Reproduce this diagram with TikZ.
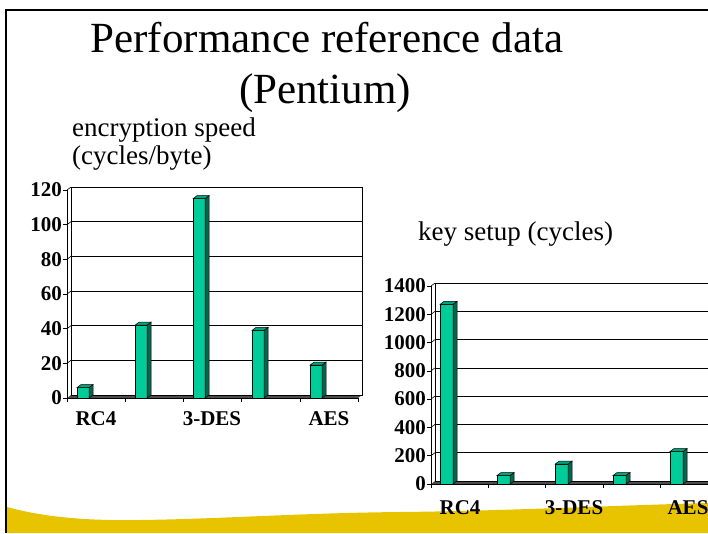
\documentclass[tikz,border=0pt]{standalone}
\usepackage{fontspec}
\setmainfont{Liberation Serif}
\usetikzlibrary{positioning}
\definecolor{Ink}{HTML}{000000}
\definecolor{BarFront}{HTML}{00CC99}
\definecolor{BarSide}{HTML}{00664D}
\definecolor{BarTop}{HTML}{00A37A}
\definecolor{Floor}{HTML}{4D4D4D}
\definecolor{Wave}{HTML}{E8C300}
% one 3-d column: left x, width, floor y, top y
\newcommand{\cbar}[4]{%
  \filldraw[fill=BarFront,draw=Ink,line width=0.5pt] (#1,#3) rectangle (#1+#2,#4);
  \filldraw[fill=BarSide,draw=Ink,line width=0.5pt] (#1+#2,#3) -- (#1+#2+4,#3-3) -- (#1+#2+4,#4-3) -- (#1+#2,#4) -- cycle;
  \filldraw[fill=BarTop,draw=Ink,line width=0.5pt] (#1,#4) -- (#1+4,#4-3) -- (#1+#2+4,#4-3) -- (#1+#2,#4) -- cycle;}

\begin{document}
\begin{tikzpicture}[x=1pt,y=-1pt,
  grid/.style={Ink,line width=0.6pt},
  ylab/.style={anchor=east,inner sep=0pt,font=\fontsize{21}{21}\selectfont\bfseries},
  xlab/.style={inner sep=0pt,font=\fontsize{21}{21}\selectfont\bfseries}]
\useasboundingbox (0,0) rectangle (708,533);
% yellow wave at the foot
\fill[Wave] (7,507) .. controls (40,516) and (80,521) .. (140,520) .. controls (220,519) and (300,513) .. (400,512) .. controls (500,511) and (600,506) .. (708,503) -- (708,533) -- (7,533) -- cycle;
\draw[Ink,line width=2pt] (6,533) -- (6,10) -- (708,10);
% headings
\node[anchor=base,inner sep=0pt,font=\fontsize{43}{43}\selectfont] (title) at (327,52) {Performance reference data};
\node[anchor=base,inner sep=0pt,font=\fontsize{43}{43}\selectfont] (cpu) at (325,103) {(Pentium)};
\node[anchor=base west,inner sep=0pt,font=\fontsize{27}{27}\selectfont] (enc) at (72,136) {encryption speed};
\node[anchor=base west,inner sep=0pt,font=\fontsize{27}{27}\selectfont] (encunit) at (72,164) {(cycles/byte)};
\node[anchor=base west,inner sep=0pt,font=\fontsize{27}{27}\selectfont] (keyset) at (418,240) {key setup (cycles)};
% chart 1: encryption speed
\fill[Floor] (67,398) -- (71,395) -- (362,395) -- (358,398) -- cycle;
\draw[grid] (71,187) rectangle (362,395);
\draw[grid] (71,221.7) -- (362,221.7);
\draw[grid] (71,256.3) -- (362,256.3);
\draw[grid] (71,291) -- (362,291);
\draw[grid] (71,325.7) -- (362,325.7);
\draw[grid] (71,360.3) -- (362,360.3);
\draw[grid] (67,190) -- (71,187);
\draw[grid] (67,224.7) -- (71,221.7);
\draw[grid] (67,259.3) -- (71,256.3);
\draw[grid] (67,294) -- (71,291);
\draw[grid] (67,328.7) -- (71,325.7);
\draw[grid] (67,363.3) -- (71,360.3);
\draw[grid] (63,190) -- (67,190) -- (67,398) -- (358,398);
\draw[grid] (63,224.7) -- (67,224.7);
\draw[grid] (63,259.3) -- (67,259.3);
\draw[grid] (63,294) -- (67,294);
\draw[grid] (63,328.7) -- (67,328.7);
\draw[grid] (63,363.3) -- (67,363.3);
\draw[grid] (63,398) -- (67,398);
\draw[grid] (67,398) -- (67,402);
\draw[grid] (125.2,398) -- (125.2,402);
\draw[grid] (183.4,398) -- (183.4,402);
\draw[grid] (241.6,398) -- (241.6,402);
\draw[grid] (299.8,398) -- (299.8,402);
\draw[grid] (358,398) -- (358,402);
\cbar{77}{12}{398}{387.6}
\cbar{135}{12}{398}{325.2}
\cbar{193}{12}{398}{198.7}
\cbar{252}{12}{398}{330.4}
\cbar{310}{12}{398}{365.1}
\node[ylab] (a120) at (62,190) {120};
\node[ylab] (a100) at (62,224.7) {100};
\node[ylab] (a80) at (62,259.3) {80};
\node[ylab] (a60) at (62,294) {60};
\node[ylab] (a40) at (62,328.7) {40};
\node[ylab] (a20) at (62,363.3) {20};
\node[ylab] (a0) at (62,398) {0};
\node[xlab] (arc) at (96,419) {RC4};
\node[xlab] (ades) at (212,419) {3-DES};
\node[xlab] (aaes) at (329,419) {AES};
% chart 2: key setup
\fill[Floor] (431,484) -- (435,481) -- (708,481) -- (708,484) -- cycle;
\draw[grid] (708,283) -- (435,283) -- (435,481) -- (708,481);
\draw[grid] (435,311.3) -- (708,311.3);
\draw[grid] (435,339.6) -- (708,339.6);
\draw[grid] (435,367.9) -- (708,367.9);
\draw[grid] (435,396.1) -- (708,396.1);
\draw[grid] (435,424.4) -- (708,424.4);
\draw[grid] (435,452.7) -- (708,452.7);
\draw[grid] (431,286) -- (435,283);
\draw[grid] (431,314.3) -- (435,311.3);
\draw[grid] (431,342.6) -- (435,339.6);
\draw[grid] (431,370.9) -- (435,367.9);
\draw[grid] (431,399.1) -- (435,396.1);
\draw[grid] (431,427.4) -- (435,424.4);
\draw[grid] (431,455.7) -- (435,452.7);
\draw[grid] (427,286) -- (431,286) -- (431,484) -- (708,484);
\draw[grid] (427,314.3) -- (431,314.3);
\draw[grid] (427,342.6) -- (431,342.6);
\draw[grid] (427,370.9) -- (431,370.9);
\draw[grid] (427,399.1) -- (431,399.1);
\draw[grid] (427,427.4) -- (431,427.4);
\draw[grid] (427,455.7) -- (431,455.7);
\draw[grid] (427,484) -- (431,484);
\draw[grid] (431,484) -- (431,488);
\draw[grid] (488.3,484) -- (488.3,488);
\draw[grid] (545.6,484) -- (545.6,488);
\draw[grid] (602.9,484) -- (602.9,488);
\draw[grid] (660.2,484) -- (660.2,488);
\cbar{440}{13}{484}{304.4}
\cbar{497}{13}{484}{475.5}
\cbar{555}{13}{484}{464.2}
\cbar{613}{13}{484}{475.5}
\cbar{670}{13}{484}{451.5}
\node[ylab] (b1400) at (426,286) {1400};
\node[ylab] (b1200) at (426,314.3) {1200};
\node[ylab] (b1000) at (426,342.6) {1000};
\node[ylab] (b800) at (426,370.9) {800};
\node[ylab] (b600) at (426,399.1) {600};
\node[ylab] (b400) at (426,427.4) {400};
\node[ylab] (b200) at (426,455.7) {200};
\node[ylab] (b0) at (426,484) {0};
\node[xlab] (brc) at (460,508) {RC4};
\node[xlab] (bdes) at (574,508) {3-DES};
\node[xlab] (baes) at (688,508) {AES};
\end{tikzpicture}
\end{document}
